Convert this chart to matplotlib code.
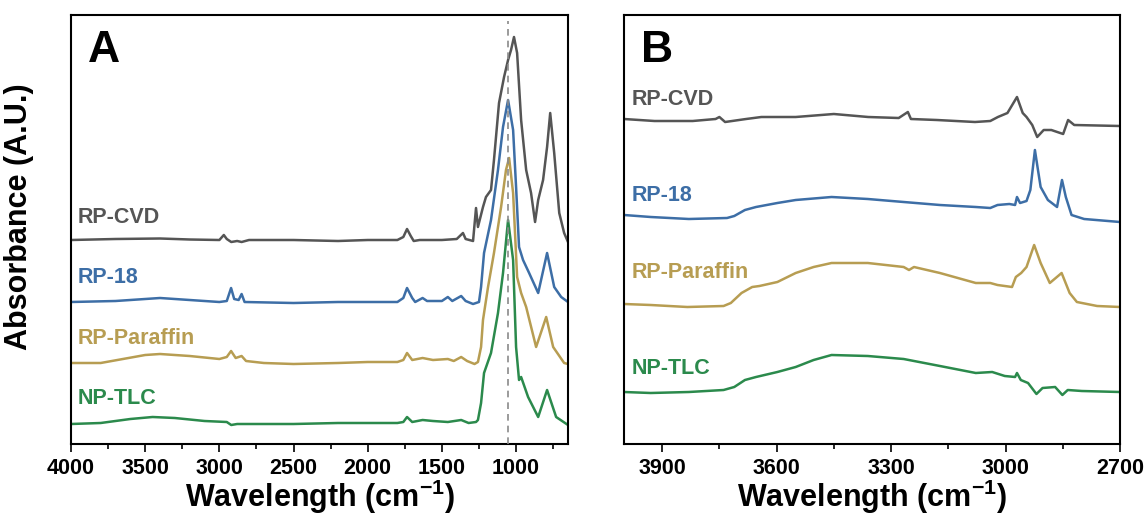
import matplotlib
matplotlib.use('Agg')
import matplotlib.pyplot as plt
from matplotlib.ticker import MultipleLocator

plt.rcParams['font.family'] = ['Liberation Sans', 'DejaVu Sans']
plt.rcParams['font.weight'] = 'bold'
plt.rcParams['mathtext.fontset'] = 'custom'
plt.rcParams['mathtext.bf'] = 'Liberation Sans:bold'
plt.rcParams['mathtext.rm'] = 'Liberation Sans:bold'

names = ['RP-CVD', 'RP-18', 'RP-Paraffin', 'NP-TLC']
colors = ['#555555', '#3d6ea6', '#b79d52', '#2b8a4c']

# ---- panel A: full range spectra (wavenumber, absorbance above own baseline)
a_wn_cvd = [4000, 3700, 3400, 3200, 3000, 2970, 2950, 2920, 2880, 2850, 2800, 2500, 2200,
            2000, 1800, 1760, 1735, 1710, 1690, 1650, 1500, 1400, 1358, 1340, 1290, 1270,
            1257, 1223, 1203, 1169, 1149, 1115, 1081, 1054, 1034, 1014, 993, 966, 932, 899,
            872, 851, 818, 791, 770, 743, 709, 676, 650]
a_cvd = [0, 1, 1.5, 0.5, 0, 5, 1, -2, -1, -2, 0, 0, -1,
         0, 0, 3, 11, 4, -1, 0, 0, 1, 7, 1, -1, 32,
         13, 33, 43, 50, 80, 137, 163, 180, 190, 203, 187, 120, 70, 47,
         18, 40, 60, 93, 127, 87, 27, 7, -2]

a_wn_rp18 = [4000, 3700, 3400, 3100, 3000, 2950, 2921, 2900, 2870, 2850, 2830, 2500, 2200,
             2000, 1800, 1760, 1735, 1700, 1680, 1630, 1600, 1500, 1460, 1430, 1370, 1340,
             1290, 1250, 1236, 1216, 1169, 1122, 1088, 1054, 1020, 1000, 980, 953, 912, 851,
             791, 743, 696, 650]
a_rp18 = [0, 1, 4, 1, 0, 1, 14, 3, 2, 8, 0, -1, 0,
          0, 0, 4, 14, 4, 0, 4, 1, 1, 5, 1, 6, 1,
          -2, 0, 15, 49, 82, 132, 175, 202, 172, 115, 55, 42, 29, 9,
          49, 15, 5, 0]

a_wn_par = [4000, 3800, 3650, 3500, 3400, 3200, 3000, 2950, 2921, 2890, 2850, 2820, 2700,
            2500, 2200, 2000, 1800, 1760, 1735, 1700, 1630, 1560, 1460, 1420, 1370, 1330,
            1280, 1257, 1236, 1223, 1189, 1149, 1101, 1068, 1047, 1020, 993, 966, 932, 865,
            797, 750, 676, 650]
a_par = [0, 0, 4, 8, 9, 7, 4, 6, 12, 5, 7, 2, 0,
         -1, 0, 1, 1, 3, 10, 3, 5, 3, 4, 2, 6, 2,
         -1, 1, 16, 43, 76, 110, 156, 193, 205, 170, 86, 70, 56, 16,
         46, 16, 0, -1]

a_wn_tlc = [4000, 3800, 3600, 3450, 3300, 3100, 2950, 2920, 2880, 2500, 2200, 2000, 1800,
            1760, 1735, 1700, 1630, 1560, 1460, 1370, 1320, 1270, 1257, 1236, 1216, 1169,
            1122, 1088, 1054, 1020, 1000, 980, 966, 919, 851, 791, 730, 650]
a_tlc = [0, 1, 5, 7, 6, 3, 2, -1, 0, 0, 1, 1, 1,
         2, 7, 2, 4, 3, 2, 4, 1, 2, 4, 21, 51, 71,
         111, 151, 204, 164, 77, 44, 47, 27, 7, 34, 7, -1]

a_offsets = [204, 142, 81, 20]
peak_line = 1054

# ---- panel B: C-H / O-H region
b_wn_cvd = [4000, 3920, 3820, 3760, 3750, 3735, 3680, 3640, 3550, 3450, 3360, 3280, 3256,
            3248, 3180, 3080, 3040, 3020, 2995, 2970, 2955, 2945, 2930, 2917, 2900, 2880,
            2849, 2836, 2820, 2700]
b_cvd = [0, -2, -2, 0, 2, -3, 0, 2, 2, 5, 2, 1, 7,
         0, -1, -3, -2, 2, 6, 22, 6, 2, -6, -18, -11, -11,
         -15, -1, -6, -7]

b_wn_rp18 = [4000, 3930, 3830, 3730, 3711, 3683, 3654, 3598, 3550, 3456, 3361, 3267, 3172,
             3078, 3040, 3021, 2990, 2975, 2970, 2962, 2945, 2935, 2923, 2915, 2908, 2889,
             2865, 2852, 2842, 2827, 2794, 2700]
b_rp18 = [0, -2, -4, -3, -1, 5, 8, 12, 15, 18, 16, 13, 10,
          8, 7, 10, 11, 10, 18, 12, 14, 25, 65, 45, 28, 15,
          8, 35, 18, 0, -4, -7]

b_wn_par = [4000, 3930, 3834, 3739, 3720, 3692, 3664, 3645, 3598, 3550, 3503, 3456, 3361,
            3267, 3253, 3240, 3172, 3125, 3078, 3040, 3021, 2983, 2973, 2959, 2945, 2925,
            2908, 2884, 2853, 2832, 2813, 2760, 2700]
b_par = [0, -1, -3, -2, 1, 11, 17, 18, 22, 31, 37, 41, 41,
         37, 34, 37, 31, 26, 21, 21, 19, 17, 27, 31, 37, 59,
         41, 21, 31, 11, 2, -2, -3]

b_wn_tlc = [4000, 3930, 3830, 3739, 3711, 3683, 3654, 3598, 3550, 3503, 3456, 3361, 3267,
            3172, 3078, 3035, 3002, 2975, 2970, 2960, 2941, 2919, 2903, 2870, 2851, 2837,
            2800, 2700]
b_tlc = [0, -1, 0, 2, 5, 12, 15, 20, 25, 32, 37, 36, 33,
         26, 19, 20, 16, 15, 19, 12, 9, -2, 4, 5, -3, 2,
         1, 0]

b_offsets = [325, 229, 140, 52]

a_series = [(a_wn_cvd, a_cvd), (a_wn_rp18, a_rp18), (a_wn_par, a_par), (a_wn_tlc, a_tlc)]
b_series = [(b_wn_cvd, b_cvd), (b_wn_rp18, b_rp18), (b_wn_par, b_par), (b_wn_tlc, b_tlc)]

fig = plt.figure(figsize=(11.46, 5.2), dpi=100)
axA = fig.add_axes([71 / 1146, 76 / 520, 497 / 1146, 429 / 520])
axB = fig.add_axes([624 / 1146, 76 / 520, 496 / 1146, 429 / 520])

for i in range(4):
    wn, y = a_series[i]
    axA.plot(wn, [v + a_offsets[i] for v in y], color=colors[i], lw=1.8)
    wn, y = b_series[i]
    axB.plot(wn, [v + b_offsets[i] for v in y], color=colors[i], lw=1.8)

axA.axvline(peak_line, ymin=0, ymax=0.985, color='#8a8a8a', lw=1.2, ls=(0, (4, 3)), zorder=3)

# labels next to each trace
a_label_y = [0.529, 0.389, 0.247, 0.107]
b_label_y = [0.802, 0.580, 0.399, 0.175]
for i in range(4):
    axA.text(0.014, a_label_y[i], names[i], color=colors[i], fontsize=15.5,
             fontweight='bold', transform=axA.transAxes, va='center', ha='left')
    axB.text(0.015, b_label_y[i], names[i], color=colors[i], fontsize=15.5,
             fontweight='bold', transform=axB.transAxes, va='center', ha='left')

axA.text(0.034, 0.965, 'A', fontsize=32, fontweight='bold', transform=axA.transAxes,
         va='top', ha='left')
axB.text(0.034, 0.965, 'B', fontsize=32, fontweight='bold', transform=axB.transAxes,
         va='top', ha='left')

axA.set_xlim(4000, 650)
axA.xaxis.set_major_locator(MultipleLocator(500))
axA.xaxis.set_minor_locator(MultipleLocator(250))
axB.set_xlim(4000, 2700)
axB.set_xticks([3900, 3600, 3300, 3000, 2700])
axB.set_xticks([3750, 3450, 3150, 2850], minor=True)

for ax in (axA, axB):
    ax.set_ylim(0, 429)
    ax.set_yticks([])
    for s in ax.spines.values():
        s.set_linewidth(1.5)
    ax.tick_params(axis='x', which='major', length=6, width=1.2, labelsize=15.5, pad=4)
    ax.tick_params(axis='x', which='minor', length=3.5, width=1.2)
    for lab in ax.get_xticklabels():
        lab.set_fontweight('bold')
    ax.set_xlabel(r'Wavelength (cm$^{\mathbf{-1}}$)', fontsize=22, fontweight='bold', labelpad=-1)

axA.set_ylabel('Absorbance (A.U.)', fontsize=22, fontweight='bold')
axA.yaxis.set_label_coords(-0.074, 0.529)

fig.savefig('out.png', dpi=100)
